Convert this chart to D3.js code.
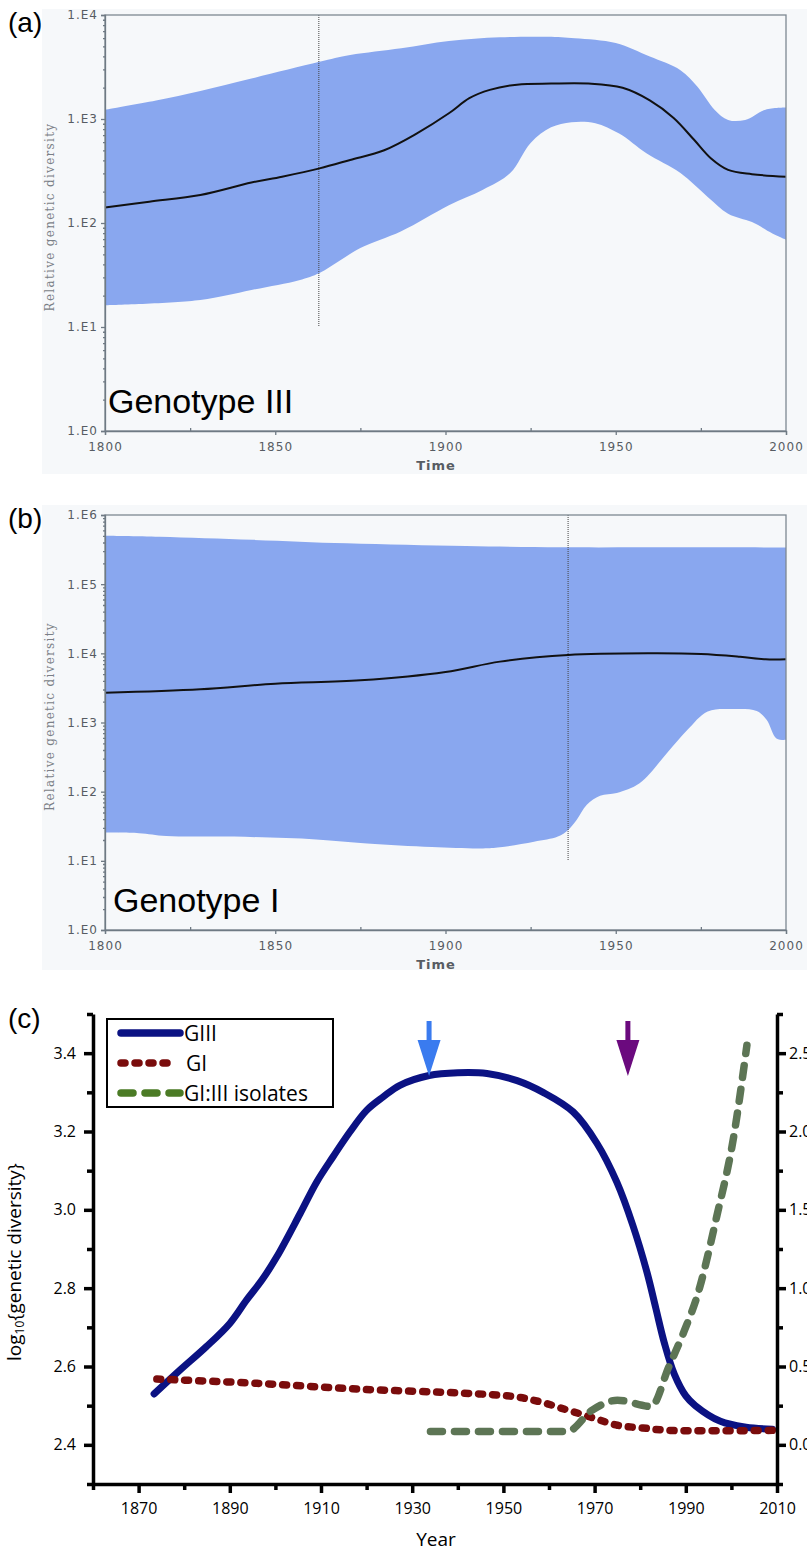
<!DOCTYPE html>
<html>
<head>
<meta charset="utf-8">
<script src="https://d3js.org/d3.v7.min.js"></script>
<style>
  body { margin: 0; background: #fff; }
  svg { display: block; }
  .sky text { font-family: "DejaVu Sans", sans-serif; font-size: 12px; fill: #575c63; letter-spacing: 1px; }
  .sky path.domain, .sky .tick line { stroke: #6f7a84; stroke-width: 1.3px; }
  .big text { font-family: "Open Sans", sans-serif; font-size: 16px; fill: #000; }
  .big path.domain { stroke: #000; stroke-width: 3.5px; }
  .big .tick line { stroke: #000; stroke-width: 3.5px; }
</style>
</head>
<body>
<script>
// ---------- data: (a) Genotype III skyline, [year, relative diversity] ----------
var g3Upper = [[1800,1230],[1815,1510],[1828,1860],[1843,2450],[1863,3550],[1872,4120],[1887,4790],[1901,5620],[1916,6100],[1930,6170],[1938,5970],[1950,5370],[1960,3980],[1969,2950],[1974,2040],[1979,1230],[1983,980],[1988,980],[1994,1230],[2000,1290]];
var g3Median = [[1800,141],[1813,160],[1828,186],[1843,245],[1852,279],[1863,335],[1872,404],[1882,501],[1891.5,724],[1901,1135],[1907,1585],[1913,1905],[1921,2140],[1931,2190],[1942,2190],[1952,1995],[1960,1510],[1967,1023],[1973,631],[1978,417],[1983,324],[1990,295],[2000,279]];
var g3Lower = [[1800,16.2],[1828,18.2],[1843,22.7],[1857,28.2],[1863,33.1],[1869,43.6],[1875,57.5],[1887,83.2],[1901,148],[1911,209],[1919,302],[1925,589],[1931,832],[1937,933],[1944,912],[1951,724],[1959,468],[1969,302],[1977,178],[1983,123],[1990,102],[1996,79.4],[2000,69.2]];

// ---------- data: (b) Genotype I skyline ----------
var g1Upper = [[1800,501000],[1816,485000],[1843.5,437000],[1871,389000],[1906,355000],[1934,341000],[1970,341000],[2000,339000]];
var g1Median = [[1800,2690],[1828,3020],[1850,3630],[1875,4070],[1900,5370],[1916,7590],[1936,9460],[1960,10000],[1975,9770],[1986.5,8910],[1994,8200],[2000,8200]];
var g1Lower = [[1800,25.7],[1810,25.1],[1818,22.9],[1838,22.4],[1862,20.4],[1877,17.8],[1896,15.8],[1911,15.1],[1916,15.7],[1926,18.9],[1933,22.4],[1936,27.9],[1938.5,38.9],[1941.5,64.6],[1945.4,87.1],[1950.3,95.5],[1957,132],[1965,359],[1971,776],[1977,1445],[1984.5,1567],[1991.4,1466],[1994.3,1096],[1997.2,589],[2000,562]];

// ---------- data: (c) log10 diversity and GI:III isolate ratio ----------
var cGIII = [[1873.4,2.53],[1879,2.59],[1884.8,2.65],[1890,2.71],[1893.7,2.77],[1897,2.82],[1900.3,2.88],[1905.4,2.99],[1909,3.07],[1912.6,3.135],[1916.4,3.20],[1920,3.254],[1923.6,3.288],[1927.3,3.318],[1933.7,3.343],[1940,3.35],[1946.4,3.348],[1953,3.33],[1958.7,3.30],[1965.3,3.25],[1970.5,3.17],[1974.9,3.07],[1978.4,2.96],[1981.5,2.84],[1983.4,2.75],[1985.3,2.66],[1987.5,2.58],[1990,2.525],[1992.1,2.50],[1997.6,2.46],[2003.2,2.445],[2009,2.44]];
var cGI = [[1874,2.568],[1896,2.557],[1918.6,2.542],[1941.1,2.532],[1952.5,2.523],[1958,2.51],[1963.7,2.49],[1969.4,2.47],[1975,2.45],[1980.6,2.443],[1986.3,2.437],[2009,2.437]];
var cRatio = [[1934,0.085],[1964,0.085],[1969.4,0.22],[1975,0.285],[1982.4,0.245],[1986.3,0.5],[1989.7,0.73],[1992.5,0.95],[1996.8,1.46],[2000.4,1.95],[2003.4,2.55]];
var arrowYears = [1933.7, 1977.3];
var arrowColors = ["#3a7bef", "#6b0a7e"];
var legendNames = ["GIII", "GI", "GI:III isolates"];

var svg = d3.select("body").append("svg").attr("width", 807).attr("height", 1550);

// ---------- skyline panels ----------
function skyline(bgTop, top, bottom, decades, upper, median, lower, markYear, markLow, name, letter, nameX) {
  var g = svg.append("g").attr("class", "sky");
  g.append("rect").attr("x", 42).attr("y", bgTop).attr("width", 765).attr("height", 465).attr("fill", "#f6f8fa");

  var x = d3.scaleLinear().domain([1800, 2000]).range([105, 786]);
  var y = d3.scaleLog().domain([1, Math.pow(10, decades)]).range([bottom, top]);

  var line = d3.line().x(function(d) { return x(d[0]); }).y(function(d) { return y(d[1]); })
    .curve(d3.curveCatmullRom.alpha(0.5));

  var band = line(upper) + "L" + line(lower.slice().reverse()).slice(1) + "Z";
  g.append("path").attr("d", band).attr("fill", "#89a7ef").attr("stroke", "none");

  g.append("line")
    .attr("x1", x(markYear)).attr("x2", x(markYear))
    .attr("y1", top).attr("y2", y(markLow))
    .attr("stroke", "#444").attr("stroke-width", 1).attr("stroke-dasharray", "1,1");

  g.append("path").attr("d", line(median)).attr("fill", "none").attr("stroke", "#111").attr("stroke-width", 2);

  g.append("rect").attr("x", 105).attr("y", top).attr("width", 681).attr("height", bottom - top)
    .attr("fill", "none").attr("stroke", "#7d8892").attr("stroke-width", 1.3);

  var majors = d3.range(0, decades + 1).map(function(k) { return Math.pow(10, k); });
  var minors = [];
  d3.range(0, decades).forEach(function(k) { d3.range(2, 10).forEach(function(m) { minors.push(m * Math.pow(10, k)); }); });

  g.append("g").attr("transform", "translate(105,0)")
    .call(d3.axisLeft(y).tickValues(majors).tickSize(4).tickPadding(3)
      .tickFormat(function(d) { return "1.E" + Math.round(Math.log10(d)); }));
  g.append("g").attr("transform", "translate(105,0)")
    .call(d3.axisLeft(y).tickValues(minors).tickSize(2).tickFormat(""))
    .select(".domain").remove();

  g.append("g").attr("transform", "translate(0," + bottom + ")")
    .call(d3.axisBottom(x).tickValues([1800, 1850, 1900, 1950, 2000]).tickSize(4).tickPadding(7).tickFormat(d3.format("d")));
  g.append("g").attr("transform", "translate(0," + bottom + ")")
    .call(d3.axisBottom(x).tickValues([1825, 1875, 1925, 1975]).tickSize(-3).tickFormat(""))
    .select(".domain").remove();

  g.append("text").attr("x", 436).attr("y", bottom + 39).attr("text-anchor", "middle")
    .style("font-size", "13px").style("font-weight", "600").text("Time");

  g.append("text").attr("transform", "translate(54," + ((top + bottom) / 2 - 6) + ") rotate(-90)")
    .attr("text-anchor", "middle")
    .style("font-family", "'DejaVu Serif', serif").style("font-size", "12px").style("fill", "#7a7f86")
    .style("letter-spacing", "1.3px")
    .text("Relative genetic diversity");

  svg.append("text").attr("x", nameX).attr("y", bottom - 18)
    .style("font-family", "'Liberation Sans', Arial, sans-serif").style("font-size", "34px").style("fill", "#000")
    .text(name);

  svg.append("text").attr("x", 8).attr("y", bgTop + 23)
    .style("font-family", "'Liberation Sans', Arial, sans-serif").style("font-size", "28px").style("fill", "#000")
    .text(letter);
}

skyline(9, 15, 431, 4, g3Upper, g3Median, g3Lower, 1862.8, 10, "Genotype III", "(a)", 108);
skyline(505, 515, 930, 6, g1Upper, g1Median, g1Lower, 1936, 10, "Genotype I", "(b)", 113);

// ---------- panel (c) ----------
var cg = svg.append("g").attr("class", "big");
var xc = d3.scaleLinear().domain([1860, 2010]).range([93, 777]);
var yl = d3.scaleLinear().domain([2.3, 3.5]).range([1484, 1014]);
var yr = d3.scaleLinear().domain([-0.25, 2.75]).range([1484, 1014]);

var styles = [
  { color: "#0b1283", dash: null },
  { color: "#7a0c0c", dash: "4 10" },
  { color: "#5d7555", dash: "12 12" }
];

var lineL = d3.line().x(function(d) { return xc(d[0]); }).y(function(d) { return yl(d[1]); }).curve(d3.curveCatmullRom.alpha(0.5));
var lineR = d3.line().x(function(d) { return xc(d[0]); }).y(function(d) { return yr(d[1]); }).curve(d3.curveMonotoneX);

function styled(sel, s, w) {
  sel.attr("fill", "none").attr("stroke", s.color).attr("stroke-width", w)
    .attr("stroke-linecap", "round").attr("stroke-linejoin", "round");
  if (s.dash) sel.attr("stroke-dasharray", s.dash);
  return sel;
}

styled(cg.append("path").attr("d", lineL(cGIII)), styles[0], 7);
styled(cg.append("path").attr("d", lineL(cGI)), styles[1], 7.5);
styled(cg.append("path").attr("d", lineR(cRatio)), styles[2], 7.5);

// axes
cg.append("g").attr("transform", "translate(93,0)")
  .call(d3.axisLeft(yl).tickValues([2.4, 2.6, 2.8, 3.0, 3.2, 3.4]).tickSize(9).tickSizeOuter(0).tickPadding(8).tickFormat(d3.format(".1f")));
cg.append("g").attr("transform", "translate(93,0)")
  .call(d3.axisLeft(yl).tickValues([2.3, 2.5, 2.7, 2.9, 3.1, 3.3, 3.5]).tickSize(6).tickFormat(""))
  .select(".domain").remove();

cg.append("g").attr("transform", "translate(777,0)")
  .call(d3.axisRight(yr).tickValues([0, 0.5, 1, 1.5, 2, 2.5]).tickSize(9).tickSizeOuter(0).tickPadding(3).tickFormat(d3.format(".1f")));
cg.append("g").attr("transform", "translate(777,0)")
  .call(d3.axisRight(yr).tickValues([-0.25, 0.25, 0.75, 1.25, 1.75, 2.25, 2.75]).tickSize(6).tickFormat(""))
  .select(".domain").remove();

cg.append("g").attr("transform", "translate(0,1484)")
  .call(d3.axisBottom(xc).tickValues(d3.range(1870, 2011, 20)).tickSize(9).tickSizeOuter(0).tickPadding(10).tickFormat(d3.format("d")));
cg.append("g").attr("transform", "translate(0,1484)")
  .call(d3.axisBottom(xc).tickValues(d3.range(1860, 2011, 20)).tickSize(6).tickFormat(""))
  .select(".domain").remove();

cg.append("text").attr("x", 436).attr("y", 1546).attr("text-anchor", "middle").style("font-size", "19px").text("Year");

var ylab = cg.append("text").attr("transform", "translate(21,1262) rotate(-90)").attr("text-anchor", "middle")
  .style("font-size", "19px");
ylab.append("tspan").text("log");
ylab.append("tspan").attr("dy", 3).style("font-size", "12px").text("10");
ylab.append("tspan").attr("dy", -3).text("{genetic diversity}");

// arrows
arrowYears.forEach(function(yr0, i) {
  var cx = xc(yr0);
  var p = d3.path();
  p.moveTo(cx - 2.5, 1021); p.lineTo(cx + 2.5, 1021); p.lineTo(cx + 2.5, 1040);
  p.lineTo(cx + 11.5, 1040); p.lineTo(cx, 1076); p.lineTo(cx - 11.5, 1040); p.lineTo(cx - 2.5, 1040);
  p.closePath();
  cg.append("path").attr("d", p.toString()).attr("fill", arrowColors[i]);
});

// legend
var lg = cg.append("g");
lg.append("rect").attr("x", 107).attr("y", 1019).attr("width", 226).attr("height", 88)
  .attr("fill", "#fff").attr("stroke", "#000").attr("stroke-width", 2);
var legendColors = ["#0b1283", "#7a0c0c", "#4b7b25"];
var legendEnds = [180, 172, 180];
legendNames.forEach(function(n, i) {
  var yy = 1033 + i * 30;
  var s = { color: legendColors[i], dash: styles[i].dash };
  styled(lg.append("line").attr("x1", 121).attr("x2", legendEnds[i]).attr("y1", yy).attr("y2", yy), s, 7.5);
  lg.append("text").attr("x", i === 1 ? 186 : 184).attr("y", yy + 8).style("font-size", "21px").text(n);
});

svg.append("text").attr("x", 8).attr("y", 1028)
  .style("font-family", "'Liberation Sans', Arial, sans-serif").style("font-size", "28px").text("(c)");
</script>
</body>
</html>
